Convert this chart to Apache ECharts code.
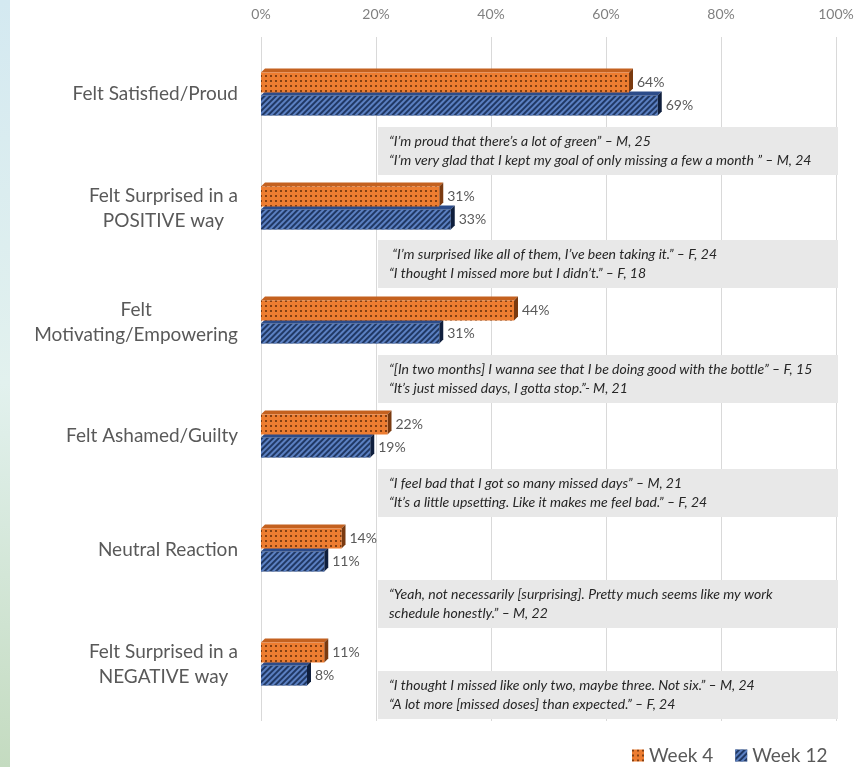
<!DOCTYPE html>
<html><head><meta charset="utf-8">
<script src="https://cdn.jsdelivr.net/npm/echarts@6/dist/echarts.min.js"></script>
<style>html,body{margin:0;padding:0;background:#fff;} #c{width:867px;height:767px;}</style>
</head><body><div id="c"></div>
<script>
// ---- data ----
const categories = ['Felt Satisfied/Proud', 'Felt Surprised in a\nPOSITIVE way', 'Felt\nMotivating/Empowering', 'Felt Ashamed/Guilty', 'Neutral Reaction', 'Felt Surprised in a\nNEGATIVE way'];
const seriesNames = ['Week 4', 'Week 12'];
const week4 = [64, 31, 44, 22, 14, 11];
const week12 = [69, 33, 31, 19, 11, 8];
const xTicks = [0, 20, 40, 60, 80, 100];
const quoteLine1 = [
  '\u201CI\u2019m proud that there\u2019s a lot of green\u201D \u2013 M, 25',
  ' \u201CI\u2019m surprised like all of them, I\u2019ve been taking it.\u201D \u2013 F, 24',
  '\u201C[In two months] I wanna see that I be doing good with the bottle\u201D \u2013 F, 15',
  '\u201CI feel bad that I got so many missed days\u201D \u2013 M, 21',
  '\u201CYeah, not necessarily [surprising]. Pretty much seems like my work',
  '\u201CI thought I missed like only two, maybe three. Not six.\u201D \u2013 M, 24'
];
const quoteLine2 = [
  '\u201CI\u2019m very glad that I kept my goal of only missing a few a month \u201D \u2013 M, 24',
  '\u201CI thought I missed more but I didn\u2019t.\u201D \u2013 F, 18',
  '\u201CIt\u2019s just missed days, I gotta stop.\u201D- M, 21',
  '\u201CIt\u2019s a little upsetting. Like it makes me feel bad.\u201D \u2013 F, 24',
  'schedule honestly.\u201D \u2013 M, 22',
  '\u201CA lot more [missed doses] than expected.\u201D \u2013 F, 24'
];

// ---- layout / style ----
const FONT = 'Lato, "Open Sans", sans-serif';
const BW = 20, GAP = 3, D = 4;
const QUOTE_OFFSET = [33, 32, 33, 33, 30, 7];
const QUOTE_H = 48;
const ORANGE = '#ED7D31', NAVY = '#203864';

const chart = echarts.init(document.getElementById('c'), null, {renderer: 'canvas'});

function faces(which, topColor, sideColor) {
  return function (params, api) {
    const v = api.value(0), c = api.value(1);
    const p0 = api.coord([0, c]);
    const p1 = api.coord([v, c]);
    const cy = p0[1];
    const top = which === 0 ? cy - GAP / 2 - BW : cy + GAP / 2;
    const bot = top + BW;
    const x0 = p0[0], x1 = p1[0];
    return {
      type: 'group',
      children: [
        {type: 'polygon', shape: {points: [[x0, top], [x0 + D, top - D], [x1 + D, top - D], [x1, top]]}, style: {fill: topColor}},
        {type: 'polygon', shape: {points: [[x1, top], [x1 + D, top - D], [x1 + D, bot - D], [x1, bot]]}, style: {fill: sideColor}}
      ]
    };
  };
}

const strip = {
  id: 'strip', type: 'rect', left: 0, top: 0, z: 0,
  shape: {width: 10, height: 767},
  style: {fill: new echarts.graphic.LinearGradient(0, 0, 0, 1, [{offset: 0, color: '#d4e9f1'}, {offset: 0.5, color: '#e2f1ee'}, {offset: 1, color: '#c4dbc0'}])}
};

const option = {
  animation: false,
  backgroundColor: '#ffffff',
  grid: {left: 261, right: 31, top: 37, bottom: 46, containLabel: false},
  xAxis: {
    type: 'value', position: 'top', min: 0, max: 100, interval: 20, z: 0,
    axisLine: {show: false}, axisTick: {show: false},
    splitLine: {lineStyle: {color: '#d9d9d9', width: 1}},
    axisLabel: {formatter: v => xTicks.indexOf(v) >= 0 ? v + '%' : '', color: '#808080', fontSize: 14, fontFamily: FONT, margin: 16}
  },
  yAxis: {
    type: 'category', inverse: true, data: categories, z: 0,
    axisLine: {show: false}, axisTick: {show: false},
    axisLabel: {
      color: '#595959', fontSize: 19, fontFamily: FONT, margin: 23, lineHeight: 25,
      formatter: v => v.split('\n').map(s => '{c|' + s + '}').join('\n'),
      rich: {c: {align: 'center', color: '#595959', fontSize: 19, fontFamily: FONT, lineHeight: 25}}
    }
  },
  legend: {
    data: seriesNames, left: 627, top: 741, icon: 'rect', itemWidth: 12, itemHeight: 12, itemGap: 22,
    textStyle: {fontSize: 19, color: '#595959', fontFamily: FONT}
  },
  series: [
    {
      name: 'w4faces', type: 'custom', z: 4, silent: true,
      renderItem: faces(0, '#c4611f', '#7a3a10'),
      data: week4.map((v, i) => [v, i])
    },
    {
      name: 'w12faces', type: 'custom', z: 4, silent: true,
      renderItem: faces(1, '#2c4c8a', '#0f1f3d'),
      data: week12.map((v, i) => [v, i])
    },
    {
      name: seriesNames[0], type: 'bar', z: 5, data: week4, barWidth: BW, barGap: '15%',
      itemStyle: {color: ORANGE, decal: {symbol: 'rect', symbolSize: 0.9, dashArrayX: [1.5, 3], dashArrayY: [1.5, 2.5], color: 'rgba(80,35,5,0.75)'}},
      label: {show: true, position: 'right', distance: 8, formatter: '{c}%', color: '#595959', fontSize: 14, fontFamily: FONT}
    },
    {
      name: seriesNames[1], type: 'bar', z: 5, data: week12, barWidth: BW,
      itemStyle: {color: NAVY, decal: {symbol: 'rect', symbolSize: 1, dashArrayX: [1, 0], dashArrayY: [1.5, 1.8], rotation: -Math.PI / 4, color: '#5b80c2'}},
      label: {show: true, position: 'right', distance: 8, formatter: '{c}%', color: '#595959', fontSize: 14, fontFamily: FONT}
    }
  ],
  graphic: [strip]
};
chart.setOption(option);

// quote boxes anchored to the axes
const g = [];
quoteLine1.forEach((q, i) => {
  const pL = chart.convertToPixel({gridIndex: 0}, [20, i]);
  const pR = chart.convertToPixel({gridIndex: 0}, [100, i]);
  const top = pL[1] + QUOTE_OFFSET[i];
  g.push({type: 'rect', z: 3, shape: {x: pL[0] + 2, y: top, width: pR[0] - pL[0], height: QUOTE_H}, style: {fill: '#e8e8e8'}});
  g.push({type: 'text', z: 3, style: {x: pL[0] + 13, y: top + 14, text: q, font: 'italic 14px ' + FONT, fill: '#262626', verticalAlign: 'middle'}});
  g.push({type: 'text', z: 3, style: {x: pL[0] + 13, y: top + 33, text: quoteLine2[i], font: 'italic 14px ' + FONT, fill: '#262626', verticalAlign: 'middle'}});
});
chart.setOption({graphic: [strip, {id: 'quotes', type: 'group', z: 3, children: g}]});
</script>
</body></html>
